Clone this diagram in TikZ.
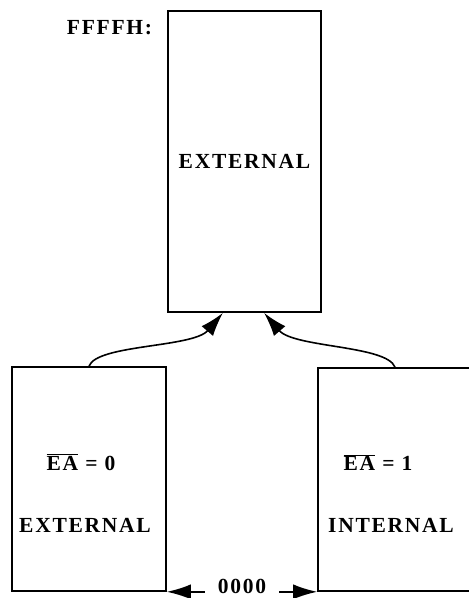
\documentclass[tikz,border=0pt]{standalone}
\usepackage{fontspec}
\setmainfont{Liberation Serif}
\usetikzlibrary{arrows.meta,positioning}

\begin{document}
\begin{tikzpicture}[x=1pt,y=1pt,
  mem/.style={rectangle,draw=black,line width=1.6pt,inner sep=0pt},
  lbl/.style={inner sep=0pt,font=\fontsize{21.5}{24}\selectfont\bfseries\addfontfeature{LetterSpace=8}},
  arr/.style={line width=1.6pt,-{Latex[length=24pt,width=15pt]}}]
  \useasboundingbox (0,0) rectangle (469,-598);
  % memory blocks
  \node[mem,minimum width=153pt,minimum height=301pt] (top) at (244.5,-161.5) {};
  \node[mem,minimum width=154pt,minimum height=224pt] (ext) at (89,-479) {};
  \node[mem,minimum width=154pt,minimum height=223pt] (int) at (395,-479.5) {};
  % labels
  \node[lbl,anchor=base] (topname) at ([yshift=-6.5pt]top.center) {EXTERNAL};
  \node[lbl,anchor=north east] (hiaddr) at ([xshift=-15pt,yshift=-10pt]top.north west) {FFFFH:};
  \node[lbl,anchor=base] (extpin) at ([xshift=-8pt,yshift=9pt]ext.center) {$\overline{\hbox{EA}}$ = 0};
  \node[lbl,anchor=base] (extname) at ([xshift=-4pt,yshift=-53pt]ext.center) {EXTERNAL};
  \node[lbl,anchor=base] (intpin) at ([xshift=-17pt,yshift=9pt]int.center) {$\overline{\hbox{EA}}$ = 1};
  \node[lbl,anchor=base] (intname) at ([xshift=-4pt,yshift=-53pt]int.center) {INTERNAL};
  \node[lbl,inner xsep=13pt,anchor=base] (loaddr) at (242,-593) {0000};
  % arrows
  \draw[arr] (ext.north) .. controls +(8,22) and +(-30,-35) .. ([xshift=-21.5pt]top.south);
  \draw[arr] (int.north) .. controls +(-8,22) and +(30,-35) .. ([xshift=19.5pt]top.south);
  \draw[arr] (loaddr.west |- ext.south) -- (ext.south east);
  \draw[arr] (loaddr.east |- int.south) -- (int.south west);
\end{tikzpicture}
\end{document}
